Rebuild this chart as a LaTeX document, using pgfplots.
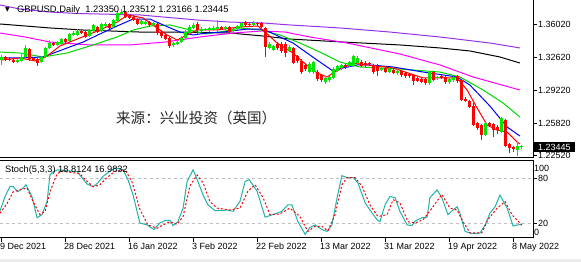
\documentclass[border=0pt]{standalone}
\usepackage{pgfplots}
\pgfplotsset{compat=1.18}
\usepackage{pgfplotstable}
\usepackage{fontspec}
\setmainfont{Liberation Sans}
\newfontfamily\cjk{Noto Sans CJK SC}
\newfontfamily\djv{DejaVu Sans}
\definecolor{bull}{RGB}{0,230,0}
\definecolor{bear}{RGB}{255,0,0}
\definecolor{mafive}{RGB}{255,0,0}
\definecolor{maten}{RGB}{0,0,255}
\definecolor{matwenty}{RGB}{0,215,0}
\definecolor{masixty}{RGB}{255,0,255}
\definecolor{mahund}{RGB}{0,0,0}
\definecolor{matwohund}{RGB}{150,50,230}
\definecolor{stk}{RGB}{32,178,170}

\pgfplotstableread{
i O H L C
0 1.3231 1.3282 1.3180 1.3262
4 1.3210 1.3241 1.3200 1.3231
5 1.3221 1.3293 1.3210 1.3262
6 1.3262 1.3386 1.3241 1.3355
10 1.3210 1.3272 1.3200 1.3262
11 1.3262 1.3365 1.3252 1.3355
12 1.3355 1.3437 1.3344 1.3406
14 1.3386 1.3427 1.3375 1.3416
15 1.3396 1.3458 1.3386 1.3447
17 1.3427 1.3509 1.3416 1.3499
18 1.3489 1.3530 1.3478 1.3509
19 1.3489 1.3550 1.3478 1.3530
22 1.3478 1.3550 1.3468 1.3540
23 1.3530 1.3602 1.3519 1.3592
25 1.3530 1.3612 1.3519 1.3602
26 1.3581 1.3622 1.3571 1.3602
28 1.3571 1.3653 1.3561 1.3643
29 1.3633 1.3736 1.3622 1.3715
30 1.3705 1.3756 1.3695 1.3725
35 1.3602 1.3653 1.3592 1.3633
36 1.3602 1.3643 1.3592 1.3622
38 1.3592 1.3622 1.3581 1.3612
43 1.3386 1.3416 1.3365 1.3406
44 1.3396 1.3437 1.3386 1.3416
45 1.3416 1.3478 1.3406 1.3458
46 1.3458 1.3540 1.3447 1.3519
47 1.3509 1.3592 1.3499 1.3571
48 1.3561 1.3612 1.3550 1.3592
50 1.3530 1.3571 1.3519 1.3550
51 1.3540 1.3561 1.3530 1.3550
52 1.3540 1.3571 1.3519 1.3561
53 1.3540 1.3581 1.3530 1.3561
54 1.3550 1.3643 1.3519 1.3571
56 1.3550 1.3581 1.3540 1.3571
58 1.3530 1.3561 1.3509 1.3550
59 1.3550 1.3592 1.3540 1.3581
60 1.3571 1.3622 1.3561 1.3612
63 1.3592 1.3633 1.3571 1.3612
67 1.3355 1.3416 1.3344 1.3396
68 1.3334 1.3386 1.3324 1.3375
72 1.3324 1.3386 1.3313 1.3365
77 1.3107 1.3210 1.3097 1.3190
78 1.3107 1.3221 1.3087 1.3210
81 1.3004 1.3066 1.2984 1.3046
82 1.3025 1.3066 1.3004 1.3056
83 1.3046 1.3159 1.3035 1.3138
84 1.3118 1.3180 1.3107 1.3169
85 1.3149 1.3190 1.3128 1.3180
87 1.3169 1.3221 1.3159 1.3210
88 1.3169 1.3282 1.3159 1.3272
89 1.3200 1.3272 1.3190 1.3252
95 1.3128 1.3169 1.3118 1.3149
97 1.3107 1.3159 1.3097 1.3138
99 1.3097 1.3138 1.3076 1.3118
107 1.2994 1.3118 1.2973 1.3107
109 1.3046 1.3066 1.3025 1.3056
112 1.3004 1.3046 1.2984 1.3035
113 1.3025 1.3066 1.3004 1.3056
121 1.2459 1.2592 1.2448 1.2582
125 1.2489 1.2644 1.2479 1.2634
129 1.2304 1.2386 1.2242 1.2345
130 1.23350 1.23512 1.23166 1.23445
}\upc

\pgfplotstableread{
i O H L C
1 1.3262 1.3272 1.3221 1.3241
2 1.3241 1.3262 1.3221 1.3231
3 1.3231 1.3252 1.3200 1.3210
7 1.3344 1.3355 1.3221 1.3241
8 1.3252 1.3262 1.3221 1.3231
9 1.3241 1.3252 1.3169 1.3200
13 1.3406 1.3416 1.3375 1.3386
16 1.3447 1.3458 1.3406 1.3416
20 1.3530 1.3540 1.3499 1.3509
21 1.3519 1.3530 1.3458 1.3468
24 1.3571 1.3581 1.3509 1.3519
27 1.3602 1.3612 1.3550 1.3561
31 1.3725 1.3736 1.3664 1.3674
32 1.3684 1.3695 1.3653 1.3664
33 1.3674 1.3695 1.3633 1.3643
34 1.3653 1.3664 1.3592 1.3602
37 1.3622 1.3633 1.3571 1.3592
39 1.3602 1.3612 1.3489 1.3509
40 1.3519 1.3540 1.3458 1.3478
41 1.3489 1.3499 1.3437 1.3447
42 1.3458 1.3468 1.3355 1.3375
49 1.3602 1.3622 1.3499 1.3540
55 1.3571 1.3581 1.3540 1.3550
57 1.3571 1.3581 1.3499 1.3519
61 1.3622 1.3633 1.3571 1.3592
62 1.3602 1.3612 1.3581 1.3592
64 1.3612 1.3622 1.3581 1.3602
65 1.3612 1.3622 1.3561 1.3571
66 1.3561 1.3571 1.3262 1.3365
69 1.3396 1.3416 1.3334 1.3355
70 1.3396 1.3416 1.3303 1.3324
71 1.3396 1.3416 1.3262 1.3303
73 1.3355 1.3365 1.3190 1.3200
74 1.3272 1.3282 1.3200 1.3221
75 1.3221 1.3241 1.3087 1.3107
76 1.3180 1.3190 1.3118 1.3138
79 1.3107 1.3128 1.3015 1.3035
80 1.3076 1.3087 1.3004 1.3025
86 1.3180 1.3190 1.3138 1.3159
90 1.3210 1.3231 1.3159 1.3169
91 1.3200 1.3221 1.3159 1.3180
92 1.3200 1.3210 1.3169 1.3190
93 1.3180 1.3190 1.3087 1.3107
94 1.3169 1.3190 1.3066 1.3118
96 1.3149 1.3169 1.3097 1.3107
98 1.3128 1.3138 1.3087 1.3097
100 1.3118 1.3128 1.3056 1.3076
101 1.3097 1.3107 1.3046 1.3066
102 1.3087 1.3097 1.3046 1.3066
103 1.3076 1.3087 1.2973 1.3015
104 1.3046 1.3056 1.3004 1.3015
105 1.3035 1.3046 1.2994 1.3004
106 1.3035 1.3046 1.2973 1.2994
108 1.3107 1.3118 1.3015 1.3025
110 1.3066 1.3076 1.3035 1.3046
111 1.3056 1.3066 1.2984 1.3004
114 1.3066 1.3076 1.2994 1.3015
115 1.3025 1.3035 1.2809 1.2819
116 1.2829 1.2850 1.2798 1.2809
117 1.2809 1.2819 1.2737 1.2747
118 1.2757 1.2788 1.2551 1.2561
119 1.2582 1.2592 1.2510 1.2531
120 1.2561 1.2572 1.2407 1.2459
122 1.2582 1.2592 1.2541 1.2551
123 1.2572 1.2582 1.2438 1.2510
124 1.2541 1.2561 1.2469 1.2510
126 1.2613 1.2623 1.2335 1.2345
127 1.2366 1.2376 1.2273 1.2325
128 1.2335 1.2345 1.2283 1.2314
}\downc

\begin{document}
\begin{tikzpicture}[font=\fontsize{9}{10}\selectfont]
\path[use as bounding box] (0,0) rectangle (581bp,262bp);
\fill[black!8] (0,0) rectangle (581bp,3bp);
% ---------- main price panel ----------
\begin{axis}[
  at={(0bp,104bp)}, anchor=south west,
  scale only axis, width=533bp, height=158bp,
  xmin=-0.375, xmax=132.875, ymin=1.22216, ymax=1.3849,
  axis line style={line width=1bp, black},
  xtick=\empty,
  ytick={1.2252,1.2582,1.2922,1.3262,1.3602},
  yticklabels={1.22520,1.25820,1.29220,1.32620,1.36020},
  ytick pos=right, tick align=outside, major tick length=4bp,
  tick style={black, line width=0.8bp},
  yticklabel style={anchor=west, inner sep=0pt, xshift=1bp},
  clip=true,
]
\addplot[matwohund, line width=1bp] coordinates {(-0.4,1.3798) (4.6,1.3756) (12.1,1.3725) (18.9,1.3710) (34.6,1.3695) (40.4,1.3674) (48.9,1.3643) (57.1,1.3622) (65.4,1.3612) (72.1,1.3592) (84.6,1.3561) (97.1,1.3519) (109.6,1.3468) (122.1,1.3406) (129.6,1.3355)};
\addplot[mahund, line width=1bp] coordinates {(-0.4,1.3602) (12.1,1.3561) (20.4,1.3540) (34.6,1.3519) (44.6,1.3519) (57.1,1.3509) (65.4,1.3478) (72.1,1.3447) (85.4,1.3416) (99.6,1.3386) (109.6,1.3355) (117.1,1.3324) (124.6,1.3262) (129.6,1.3200)};
\addplot[masixty, line width=1bp] coordinates {(-0.4,1.3509) (5.9,1.3468) (12.1,1.3416) (22.1,1.3386) (32.1,1.3386) (40.9,1.3416) (49.6,1.3468) (57.9,1.3509) (65.1,1.3530) (70.9,1.3519) (77.1,1.3468) (86.4,1.3406) (99.6,1.3293) (109.6,1.3180) (117.9,1.3056) (129.6,1.2922)};
\addplot[matwenty, line width=1bp] coordinates {(-0.4,1.3313) (4.6,1.3303) (10.4,1.3262) (16.4,1.3303) (22.9,1.3386) (28.9,1.3468) (32.9,1.3540) (37.1,1.3581) (42.1,1.3592) (47.1,1.3540) (50.9,1.3499) (54.6,1.3519) (59.6,1.3561) (64.6,1.3540) (69.6,1.3489) (74.6,1.3406) (79.6,1.3313) (84.6,1.3210) (89.6,1.3159) (99.6,1.3138) (109.6,1.3107) (114.6,1.3056) (120.4,1.2922) (125.4,1.2788) (129.6,1.2644)};
\addplot[maten, line width=1bp] coordinates {(0.1,1.3252) (4.6,1.3252) (10.4,1.3262) (16.4,1.3355) (20.4,1.3416) (24.6,1.3499) (28.9,1.3581) (32.9,1.3653) (37.1,1.3653) (40.4,1.3592) (44.6,1.3519) (47.9,1.3489) (51.4,1.3509) (55.4,1.3519) (61.4,1.3550) (64.6,1.3550) (67.1,1.3519) (69.6,1.3468) (72.9,1.3406) (77.1,1.3282) (81.4,1.3159) (82.9,1.3118) (85.4,1.3149) (88.9,1.3180) (92.1,1.3180) (97.9,1.3159) (105.4,1.3107) (113.9,1.3056) (117.1,1.2973) (122.1,1.2757) (126.4,1.2541) (129.6,1.2448)};
\addplot[mafive, line width=1bp] coordinates {(0.1,1.3231) (4.6,1.3252) (8.4,1.3221) (11.4,1.3272) (14.6,1.3375) (19.6,1.3458) (24.6,1.3540) (28.9,1.3622) (31.6,1.3695) (35.4,1.3664) (38.9,1.3561) (41.4,1.3489) (43.9,1.3437) (46.4,1.3489) (48.9,1.3540) (53.9,1.3540) (59.6,1.3571) (64.1,1.3581) (65.9,1.3519) (68.9,1.3406) (72.9,1.3303) (75.4,1.3210) (78.9,1.3097) (81.4,1.3056) (82.9,1.3097) (85.4,1.3159) (87.9,1.3200) (91.4,1.3180) (97.9,1.3149) (105.4,1.3046) (113.9,1.3046) (116.4,1.2922) (118.9,1.2737) (121.4,1.2561) (123.9,1.2510) (126.4,1.2489) (128.9,1.2386) (129.6,1.2366)};
% candles: wicks then bodies
\addplot[draw=none, error bars/.cd, y dir=minus, y explicit, error mark=none,
  error bar style={draw=bull, line width=1bp}]
  table[x=i, y=H, y error minus expr={\thisrow{H}-\thisrow{L}}] {\upc};
\addplot[draw=none, error bars/.cd, y dir=minus, y explicit, error mark=none,
  error bar style={draw=bull, line width=3bp}]
  table[x=i, y=C, y error minus expr={\thisrow{C}-\thisrow{O}}] {\upc};
\addplot[draw=none, error bars/.cd, y dir=minus, y explicit, error mark=none,
  error bar style={draw=bear, line width=1bp}]
  table[x=i, y=H, y error minus expr={\thisrow{H}-\thisrow{L}}] {\downc};
\addplot[draw=none, error bars/.cd, y dir=minus, y explicit, error mark=none,
  error bar style={draw=bear, line width=3bp}]
  table[x=i, y=O, y error minus expr={\thisrow{O}-\thisrow{C}}] {\downc};
\end{axis}
% ---------- stochastic panel ----------
\begin{axis}[
  at={(0bp,24bp)}, anchor=south west,
  scale only axis, width=533bp, height=77bp,
  xmin=-0.375, xmax=132.875, ymin=0, ymax=103,
  axis line style={line width=1bp, black},
  xtick={0,16,32,48,64,80,96,112,128},
  xticklabels={9 Dec 2021,28 Dec 2021,16 Jan 2022,3 Feb 2022,22 Feb 2022,13 Mar 2022,31 Mar 2022,19 Apr 2022,8 May 2022},
  xtick pos=bottom,
  ytick={20,80}, yticklabels={20,80},
  extra y ticks={93.7,7}, extra y tick labels={100,0},
  extra y tick style={major tick length=0pt},
  ytick pos=right, tick align=outside, major tick length=4bp,
  tick style={black, line width=0.8bp},
  yticklabel style={anchor=west, inner sep=0pt, xshift=1bp},
  xticklabel style={anchor=north west, inner sep=0pt, xshift=-1.5bp, yshift=-1bp},
  clip=true,
]
\addplot[black!25, dash pattern=on 3bp off 3bp, line width=0.8bp] coordinates {(-0.375,20) (132.875,20)};
\addplot[black!25, dash pattern=on 3bp off 3bp, line width=0.8bp] coordinates {(-0.375,80) (132.875,80)};
\addplot[stk, line width=1bp] coordinates {(-0.4,35.7) (0.9,55.6) (2.1,68.6) (2.9,68.6) (4.1,61.7) (5.4,66.9) (6.1,71.2) (7.6,55.6) (8.9,27) (10.1,31.3) (11.4,48.7) (12.1,84.2) (12.9,88.6) (14.1,91.2) (18.9,88.6) (20.1,80.8) (21.4,72.1) (22.9,68.6) (24.1,73.8) (25.4,82.5) (27.1,89.4) (28.4,93.8) (30.4,91.2) (31.6,78.2) (32.9,57.4) (34.6,20.1) (36.4,17.5) (38.1,11.4) (39.6,20.1) (40.9,23.5) (42.1,23.5) (42.9,16.6) (44.1,21.8) (45.4,40) (46.4,75.6) (47.9,91.2) (49.1,75.6) (50.4,57.4) (51.6,44.4) (53.4,36.5) (56.4,37.4) (57.9,35.7) (59.6,48.7) (60.9,75.6) (61.9,78.2) (63.9,62.6) (65.9,27.9) (67.9,31.3) (70.1,35.7) (71.6,44.4) (72.6,44.4) (74.1,21.8) (75.9,5) (77.1,14) (78.4,17.5) (80.1,11.4) (81.4,8.8) (82.6,17.5) (83.9,53.9) (85.1,83.4) (86.4,80.8) (87.9,80.8) (89.1,73.8) (90.9,47) (92.1,37.4) (93.9,24.4) (94.6,21.8) (95.9,44.4) (97.1,55.6) (98.4,53.9) (99.6,35.7) (101.4,17.5) (102.6,16.6) (103.4,22.7) (105.1,27) (106.4,27.9) (107.1,53.9) (108.9,64.3) (110.1,53.9) (111.6,31.3) (112.9,37.4) (113.9,41.8) (114.6,33.1) (115.9,8.8) (117.6,6) (119.6,6.5) (120.9,17.5) (122.1,33.1) (123.4,41.8) (124.6,57.4) (126.4,40) (127.9,16) (130.1,18.8)};
\addplot[red, line width=1bp, dash pattern=on 2bp off 2bp] coordinates {(-0.4,33.1) (1.4,46.1) (2.9,61.7) (4.6,64.3) (6.4,66.9) (7.9,48.7) (9.6,31.3) (10.9,35.7) (12.1,61.7) (13.9,86) (15.1,89.4) (19.6,86) (20.9,78.2) (22.9,68.6) (24.6,71.2) (26.4,80.8) (28.4,89.4) (30.9,91.2) (32.6,75.6) (34.6,38.3) (36.6,17.5) (38.9,13.1) (40.4,17.5) (42.1,21.8) (43.9,18.3) (45.4,28.7) (47.1,69.5) (48.9,84.2) (50.4,73.8) (52.1,48.7) (53.9,40) (57.1,37.4) (59.6,40) (61.6,62.6) (63.4,71.2) (65.4,53.9) (67.1,31.3) (69.6,32.2) (72.1,40) (74.6,28.7) (76.6,8.8) (78.4,15.7) (80.1,15.7) (81.6,9.7) (83.4,31.3) (85.1,71.2) (86.4,80.8) (88.4,80.8) (90.1,69.5) (92.1,44.4) (94.1,28.7) (96.4,31.3) (97.9,51.3) (99.6,47) (101.6,21.8) (103.4,20.1) (105.4,24.4) (107.6,40) (110.1,58.2) (112.1,40) (113.9,37.4) (115.4,21.8) (117.1,7) (120.1,7) (121.6,24.4) (123.9,40) (125.9,48.7) (127.6,31.3) (130.1,17)};
\end{axis}
% ---------- texts ----------
\node[anchor=west, inner sep=0pt] at (5bp,252bp) {\djv\fontsize{6}{6}\selectfont ▼};
\node[anchor=west, inner sep=0pt, font=\fontsize{9.4}{10}\selectfont] at (17bp,252bp) {GBPUSD,Daily\ \ 1.23350 1.23512 1.23166 1.23445};
\node[anchor=west, inner sep=0pt, font=\fontsize{9.3}{10}\selectfont] at (5bp,92bp) {Stoch(5,3,3) 18.8124 16.9832};
\node[anchor=west, inner sep=0pt, text=black!85] at (116bp,144bp) {\cjk\fontsize{14.6}{15}\selectfont 来源：兴业投资（英国）};
\node[anchor=west, fill=black, text=white, inner xsep=4bp, inner ysep=0pt, minimum height=10bp] at (534bp,114.5bp) {1.23445};
\end{tikzpicture}
\end{document}
